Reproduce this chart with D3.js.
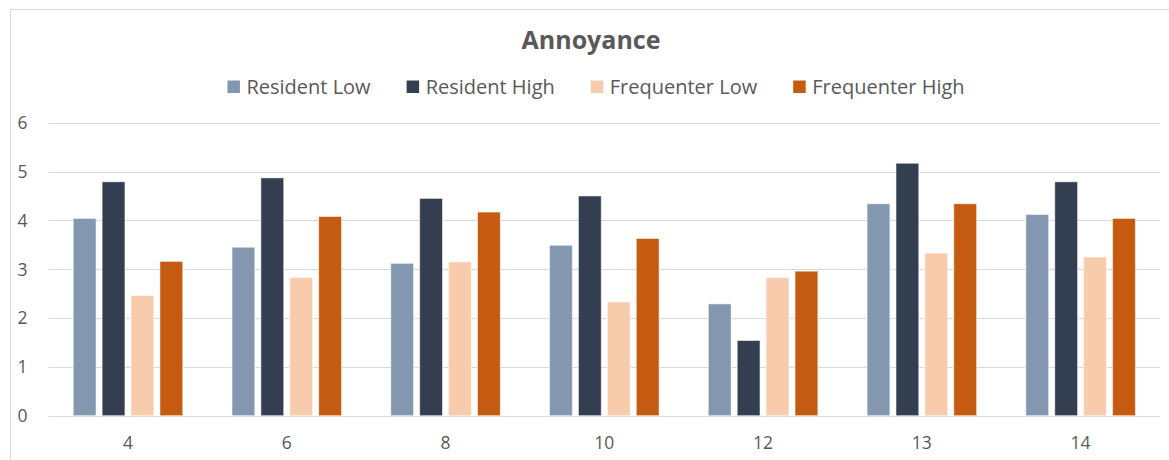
<!DOCTYPE html>
<html>
<head>
<meta charset="utf-8">
<script src="https://cdn.jsdelivr.net/npm/d3@7"></script>
<style>
  html, body { margin: 0; padding: 0; background: #fff; }
  svg { display: block; font-family: "Open Sans", "Liberation Sans", sans-serif; }
</style>
</head>
<body>
<svg id="chart" width="1169" height="460"></svg>
<script>
const title = "Annoyance";
const categories = ["4", "6", "8", "10", "12", "13", "14"];
const seriesNames = ["Resident Low", "Resident High", "Frequenter Low", "Frequenter High"];
const seriesColors = ["#8497B0", "#333F50", "#F8CBAD", "#C55A11"];
const residentLow    = [4.04, 3.45, 3.12, 3.49, 2.29, 4.34, 4.12];
const residentHigh   = [4.79, 4.87, 4.45, 4.50, 1.54, 5.17, 4.79];
const frequenterLow  = [2.46, 2.83, 3.15, 2.33, 2.83, 3.33, 3.25];
const frequenterHigh = [3.16, 4.08, 4.17, 3.63, 2.96, 4.34, 4.04];
const yTicks = [0, 1, 2, 3, 4, 5, 6];

const seriesValues = [residentLow, residentHigh, frequenterLow, frequenterHigh];

const svg = d3.select("#chart");
const W = 1169, H = 460;

// chart border (left and top visible)
svg.append("line").attr("x1", 10.5).attr("x2", 10.5).attr("y1", 9.5).attr("y2", H)
  .attr("stroke", "#d9d9d9").attr("stroke-width", 1);
svg.append("line").attr("x1", 10.5).attr("x2", W).attr("y1", 9.5).attr("y2", 9.5)
  .attr("stroke", "#d9d9d9").attr("stroke-width", 1);

const plot = { left: 48.6, right: 1160, top: 122.7, bottom: 415.7 };

const x0 = d3.scaleBand().domain(categories).range([plot.left, plot.right]).paddingInner(0.31).paddingOuter(0.155);
const x1 = d3.scaleBand().domain(seriesNames).range([0, x0.bandwidth()]).paddingInner(0.21).paddingOuter(0);
const y = d3.scaleLinear().domain([0, 6]).range([plot.bottom, plot.top]);

// gridlines
svg.append("g").selectAll("line").data(yTicks).join("line")
  .attr("x1", plot.left).attr("x2", plot.right)
  .attr("y1", d => Math.round(y(d)) + 0.5).attr("y2", d => Math.round(y(d)) + 0.5)
  .attr("stroke", "#d9d9d9").attr("stroke-width", 1);

// y labels
svg.append("g").selectAll("text").data(yTicks).join("text")
  .attr("x", 22.5).attr("y", d => y(d)).attr("dy", "0.36em")
  .attr("text-anchor", "middle")
  .attr("fill", "#595959").attr("font-size", 17.5)
  .text(d => d);

// bars
const rows = categories.map((c, i) => ({ cat: c, vals: seriesNames.map((s, j) => ({ s, j, v: seriesValues[j][i] })) }));
svg.append("g").selectAll("g").data(rows).join("g")
  .attr("transform", d => `translate(${x0(d.cat)},0)`)
  .selectAll("rect").data(d => d.vals).join("rect")
  .attr("x", d => x1(d.s))
  .attr("width", x1.bandwidth())
  .attr("y", d => y(d.v))
  .attr("height", d => y(0) - y(d.v))
  .attr("fill", d => seriesColors[d.j])
  .attr("stroke", "rgba(255,255,255,0.55)")
  .attr("stroke-width", 1);

// x labels
svg.append("g").selectAll("text").data(categories).join("text")
  .attr("x", d => x0(d) + x0.bandwidth() / 2)
  .attr("y", 448.5)
  .attr("text-anchor", "middle")
  .attr("fill", "#595959").attr("font-size", 17.5)
  .text(d => d);

// title
svg.append("text").attr("x", 591).attr("y", 49.3)
  .attr("text-anchor", "middle").attr("font-weight", "bold")
  .attr("font-size", 25).attr("fill", "#595959")
  .text(title);

// legend
const legend = svg.append("g");
const items = legend.selectAll("g").data(seriesNames).join("g");
items.append("rect").attr("width", 12.5).attr("height", 12.5).attr("y", 80.5)
  .attr("fill", (d, i) => seriesColors[i]);
items.append("text").attr("x", 19).attr("y", 93.5)
  .attr("fill", "#595959").attr("font-size", 20)
  .text(d => d);
const widths = [];
items.each(function () { widths.push(19 + d3.select(this).select("text").node().getComputedTextLength()); });
const gap = 36;
const total = d3.sum(widths) + gap * (widths.length - 1);
let cx = 596 - total / 2;
items.attr("transform", (d, i) => { const t = `translate(${cx},0)`; cx += widths[i] + gap; return t; });
</script>
</body>
</html>
